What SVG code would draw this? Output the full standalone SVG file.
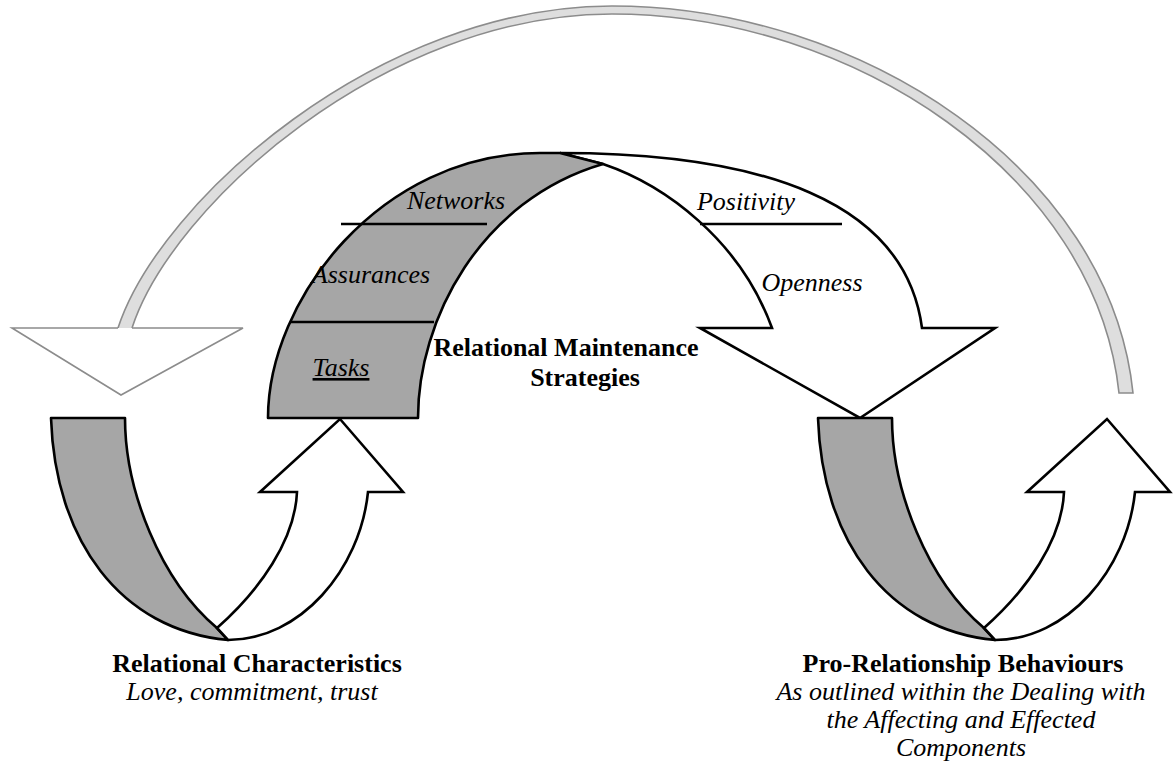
<svg xmlns="http://www.w3.org/2000/svg" xmlns:xlink="http://www.w3.org/1999/xlink" width="1174" height="772" viewBox="0 0 1174 772">
<defs>
<style>
.grey{fill:#a6a6a6;stroke:#000;stroke-width:2.6;stroke-linejoin:round}
.white{fill:#fff;stroke:#000;stroke-width:2.6;stroke-linejoin:miter}
.sep{stroke:#000;stroke-width:2.4;fill:none}
.arcfill{fill:#dedede;stroke:none}
.arcline{fill:none;stroke:#8c8c8c;stroke-width:1.6}
.arrowhead{fill:#fff;stroke:#8c8c8c;stroke-width:1.6;stroke-linejoin:miter}
.lbl{font-family:"Liberation Serif","Times New Roman",serif;font-size:26px;fill:#000}
.b{font-weight:bold}
.i{font-style:italic}
</style>
<g id="uarrow">
<path class="grey" d="M51,418 L125,418 C125,490 160,580 217,628 L228,640 C120,630 55,540 51,418 Z"/>
<path class="white" d="M217,628 C260,590 295,540 297,492 L260,492 L340,419 L403,492 L368,492 C360,570 300,640 228,640 Z"/>
</g>
</defs>
<rect width="1174" height="772" fill="#fff"/>

<g id="connectors">
<g id="feedback-arc">
<path class="arcfill" d="M118,328 C160,200 380,6 612,6 C860,6 1110,170 1133,393 L1119,393 C1096,175 852,14 612,14 C385,14 172,205 132,328 Z"/>
<path class="arcline" d="M118,328 C160,200 380,6 612,6 C860,6 1110,170 1133,393 L1119,393 C1096,175 852,14 612,14 C385,14 172,205 132,328"/>
<path class="arrowhead" d="M118,328 L12,328 L121,395 L243,328 L132,328"/>
</g>
</g>

<g id="node-maintenance">
<path class="white" d="M560,153 C760,153 905,200 922,328 L995,328 L860,418 L700,328 L772,328 C740,240 665,185 603,164 Z"/>
<path class="grey" d="M268,418 C268,300 380,153 540,153 L560,153 L603,164 C480,200 418,320 418,418 Z"/>
<path class="sep" d="M341,224 L487,224"/>
<path class="sep" d="M290,322 L434,322"/>
<path class="sep" d="M700,224 L842,224"/>
<text class="lbl i" x="456" y="209" text-anchor="middle">Networks</text>
<text class="lbl i" x="371" y="283" text-anchor="middle">Assurances</text>
<text class="lbl i" x="341" y="376" text-anchor="middle" text-decoration="underline">Tasks</text>
<text class="lbl i" x="746" y="210" text-anchor="middle">Positivity</text>
<text class="lbl i" x="812" y="291" text-anchor="middle">Openness</text>
<text class="lbl b" x="566" y="356" text-anchor="middle">Relational Maintenance</text>
<text class="lbl b" x="585" y="386" text-anchor="middle">Strategies</text>
</g>

<g id="node-relational-characteristics">
<use xlink:href="#uarrow" href="#uarrow"/>
<text class="lbl b" x="257" y="672" text-anchor="middle">Relational Characteristics</text>
<text class="lbl i" x="252" y="700" text-anchor="middle">Love, commitment, trust</text>
</g>

<g id="node-pro-relationship">
<use xlink:href="#uarrow" href="#uarrow" transform="translate(767,0)"/>
<text class="lbl b" x="963" y="672" text-anchor="middle">Pro-Relationship Behaviours</text>
<text class="lbl i" x="961" y="700" text-anchor="middle">As outlined within the Dealing with</text>
<text class="lbl i" x="961" y="728" text-anchor="middle">the Affecting and Effected</text>
<text class="lbl i" x="961" y="756" text-anchor="middle">Components</text>
</g>
</svg>
